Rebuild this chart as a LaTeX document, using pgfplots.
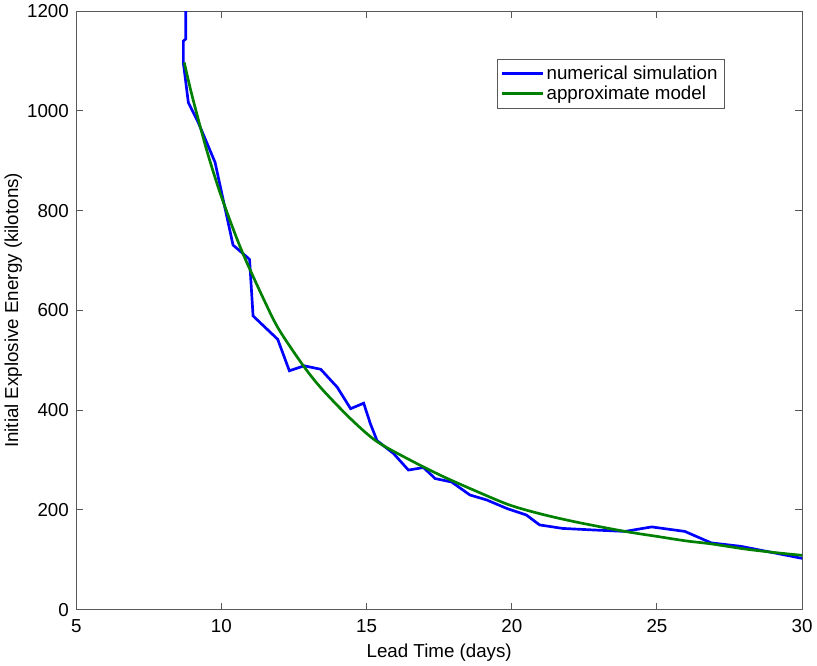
\documentclass[border=0pt]{standalone}
\usepackage{pgfplots}
\pgfplotsset{compat=1.18}
\usepackage{fontspec}
\setmainfont{Liberation Sans}
\definecolor{mblue}{RGB}{0,0,255}
\definecolor{mgreen}{RGB}{0,128,0}
\begin{document}
\begin{tikzpicture}
\begin{axis}[
  scale only axis,
  width=542pt, height=447pt,
  xmin=5, xmax=30, ymin=0, ymax=1200,
  xtick={5,10,...,30},
  ytick={0,200,...,1200},
  tick align=inside,
  major tick length=5pt,
  axis line style={gray!70!black, line width=0.8pt},
  every tick/.style={gray!70!black, line width=0.8pt},
  font=\fontsize{14}{16}\selectfont,
  /pgf/number format/assume math mode=true,
  /pgf/number format/1000 sep={},
  yticklabel style={xshift=-2pt},
  xticklabel style={yshift=-4pt},
  xlabel={Lead Time (days)},
  ylabel={Initial Explosive Energy (kilotons)},
  xlabel style={yshift=-1pt},
  ylabel style={yshift=-3pt},
  clip=true,
  legend cell align=left,
  legend style={at={(0.893,0.92)}, anchor=north east, draw=gray!70!black,
    font=\fontsize{14}{16}\selectfont, inner sep=3pt, row sep=-1pt},
  legend image code/.code={\draw[#1, line width=2pt] (0pt,0pt) -- (30pt,0pt);},
]
\addplot[mblue, line width=2pt] coordinates {
  (8.77,1300) (8.77,1144) (8.69,1140) (8.69,1096) (8.86,1017) (9.2,977)
  (9.78,897) (10.4,731) (10.92,705) (10.97,702) (11.09,589) (11.94,542)
  (12.34,479) (12.85,489) (13.42,482) (13.99,446) (14.45,403) (14.9,414)
  (15.13,373) (15.36,339) (15.93,313) (16.44,280) (16.96,285) (17.36,263)
  (17.93,256) (18.56,230) (19.14,220) (19.83,203) (20.5,190) (20.96,170)
  (21.75,163) (22.77,160) (23.9,157) (24.82,166) (25.96,157) (26.87,134)
  (27.9,127) (30,103)
};
\addlegendentry{numerical simulation}
\addplot[mgreen, line width=2pt, smooth] coordinates {
  (8.72,1097) (9.0,1028) (9.5,920) (10.0,828) (10.69,721) (11.5,617)
  (12.0,560) (12.86,486) (13.5,440) (14.5,380) (15.36,337) (16.5,300)
  (17.6,268) (18.8,237) (19.92,210) (21.0,192) (22.2,176) (23.9,157)
  (25.0,147) (26.0,138) (26.87,132) (28.0,122) (29.0,115) (30.0,109)
};
\addlegendentry{approximate model}
\end{axis}
\end{tikzpicture}
\end{document}
